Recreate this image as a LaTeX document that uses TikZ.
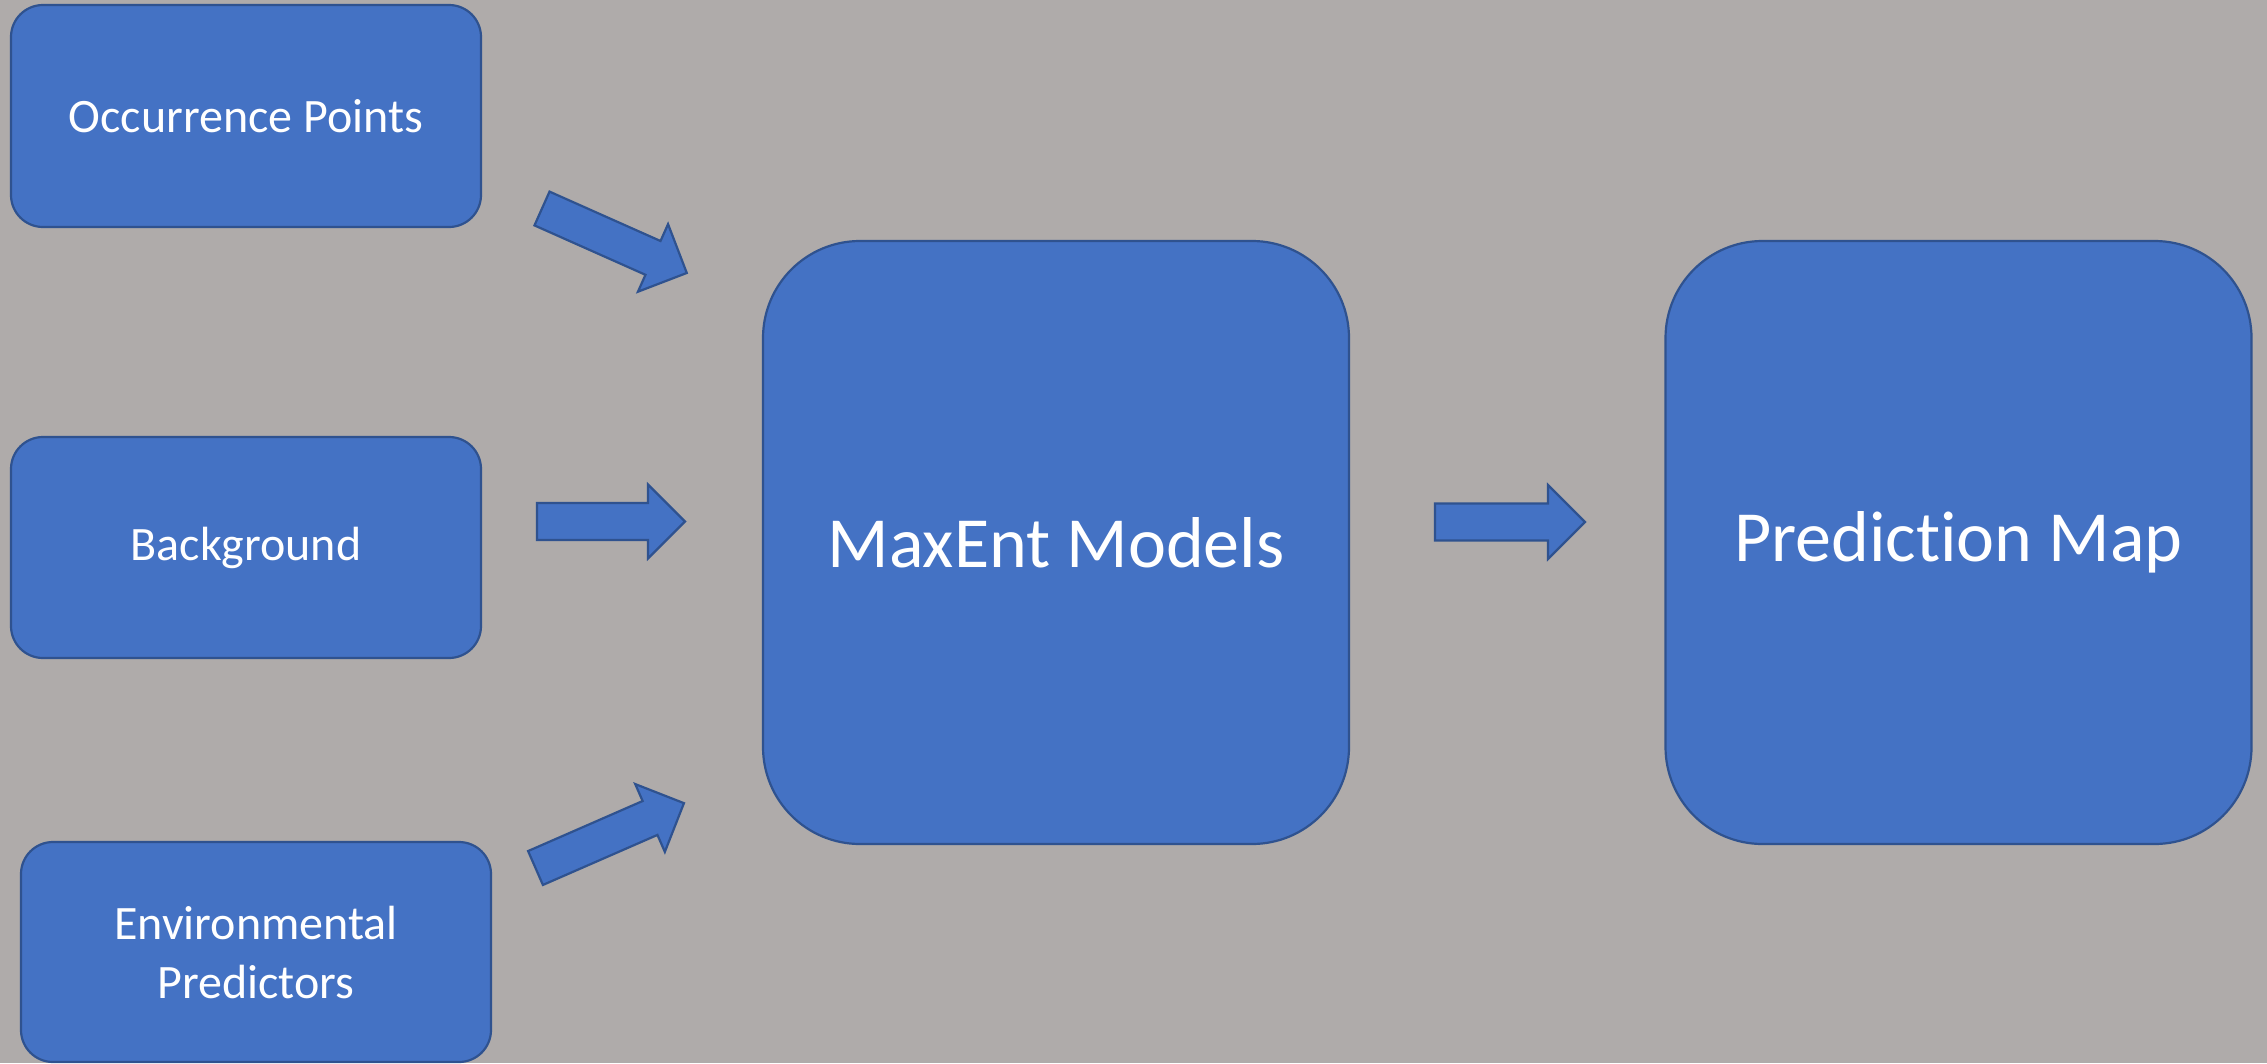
\documentclass[tikz,border=0pt]{standalone}
\usepackage{fontspec}
\setmainfont[Ligatures=NoCommon]{Carlito}
\definecolor{bgc}{HTML}{AFABAA}
\definecolor{boxfill}{HTML}{4472C4}
\definecolor{boxline}{HTML}{2F528F}
\tikzset{
  smallbox/.style={draw=boxline, fill=boxfill, line width=2.2pt, rounded corners=32pt,
    minimum width=470pt, text=white, font=\fontsize{48}{59}\selectfont, align=center, inner sep=0pt},
  bigbox/.style={draw=boxline, fill=boxfill, line width=2.2pt, rounded corners=97pt,
    minimum width=586pt, minimum height=603pt, text=white, font=\fontsize{72}{86}\selectfont, inner sep=0pt},
  blockarr/.style={draw=boxline, fill=boxfill, line width=2.2pt, line join=miter}
}
\newcommand{\blockarrow}[4]{% x, y (tail centre), angle, length
  \begin{scope}[shift={(#1,#2)}, rotate=#3]
    \draw[blockarr] (0,-18.5) -- ({#4-37},-18.5) -- ({#4-37},-37) -- (#4,0)
      -- ({#4-37},37) -- ({#4-37},18.5) -- (0,18.5) -- cycle;
  \end{scope}}
\begin{document}
\begin{tikzpicture}[x=1pt, y=-1pt]
\useasboundingbox (0,0) rectangle (2267,1063);
\fill[bgc] (0,0) rectangle (2267,1063);
\node[smallbox, minimum height=222pt] (occ) at (246,116) {Occurrence Points};
\node[smallbox, minimum height=221pt] (bg) at (246,547.5) {Background};
\node[smallbox, minimum height=220pt] (env) at (256,952) {Environmental\\Predictors};
\node[bigbox] (maxent) at (1056,542.5) {MaxEnt Models};
\node[bigbox] (pred) at (1958.5,542.5) {Prediction Map};
\blockarrow{542}{208.5}{-24}{158.5}
\blockarrow{537}{521.5}{0}{148}
\blockarrow{535.5}{868}{23.6}{162}
\blockarrow{1435}{522}{0}{150}
\end{tikzpicture}
\end{document}
